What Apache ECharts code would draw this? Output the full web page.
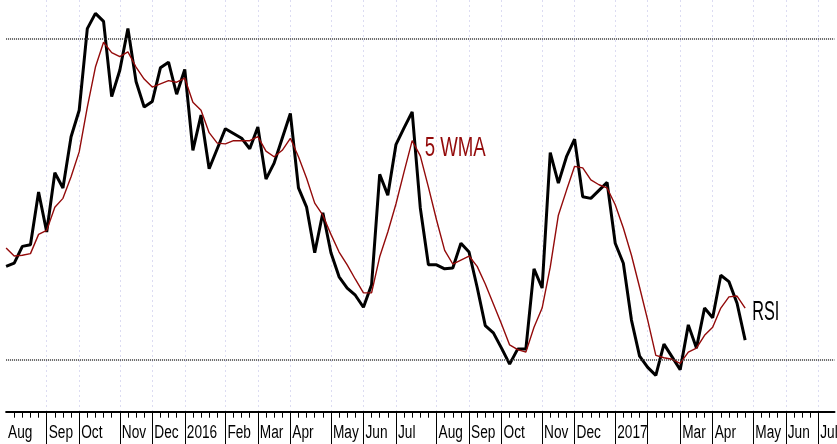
<!DOCTYPE html>
<html>
<head>
<meta charset="utf-8">
<script src="https://cdn.jsdelivr.net/npm/echarts@6/dist/echarts.min.js"></script>
<style>
html, body { margin: 0; padding: 0; background: #fff; }
#rsi-chart { width: 837px; height: 444px; }
</style>
</head>
<body>
<div id="rsi-chart"></div>
<script>
// weekly bars, week ending Saturday, first one 2015-08-01
var firstWeek = '2015-08-01';
var weekCount = 103;

var monthTicks  = [0, 5, 9, 14, 18, 22, 27, 31, 35, 40, 44, 48, 53, 57, 61, 66, 70, 75, 79, 83, 87, 92, 96, 100];
var monthLabels = ['Aug', 'Sep', 'Oct', 'Nov', 'Dec', '2016', 'Feb', 'Mar', 'Apr', 'May', 'Jun', 'Jul',
                   'Aug', 'Sep', 'Oct', 'Nov', 'Dec', '2017', '', 'Mar', 'Apr', 'May', 'Jun', 'Jul'];

var rsi = [41.6, 42.0, 44.1, 44.3, 50.9, 45.9, 53.3, 51.4, 57.8, 61.1,
           71.3, 73.2, 72.2, 62.8, 66.1, 71.3, 64.7, 61.5, 62.2, 66.4,
           67.1, 63.1, 66.2, 56.1, 60.5, 53.8, 56.3, 58.8, 58.2, 57.6,
           56.3, 59.0, 52.5, 54.5, 57.6, 60.7, 51.4, 49.0, 43.3, 48.3,
           43.3, 40.3, 38.9, 38.0, 36.5, 39.3, 53.1, 50.5, 56.8, 58.9,
           60.9, 48.9, 41.8, 41.8, 41.3, 41.4, 44.5, 43.4, 39.0, 34.2,
           33.3, 31.4, 29.4, 31.3, 31.3, 41.3, 38.9, 55.8, 52.0, 55.3,
           57.5, 50.3, 50.1, 51.1, 52.1, 44.5, 42.0, 34.9, 30.4, 29.0,
           28.0, 31.9, 30.3, 28.7, 34.3, 31.4, 36.4, 35.2, 40.5, 39.7,
           37.0, 32.4];

var wma = [43.9, 42.9, 43.0, 43.2, 45.6, 46.1, 49.0, 50.1, 52.8, 55.9,
           61.5, 66.5, 69.6, 68.3, 67.8, 68.4, 66.5, 65.0, 64.0, 64.4,
           64.8, 64.6, 65.1, 62.1, 61.1, 58.3, 57.0, 56.9, 57.3, 57.3,
           57.3, 57.8, 56.0, 55.3, 56.1, 57.6, 55.3, 52.6, 49.5, 48.0,
           45.6, 43.4, 41.8, 40.0, 38.3, 38.3, 42.8, 45.9, 49.4, 53.4,
           57.3, 55.4, 51.5, 47.4, 43.6, 41.9, 42.4, 42.9, 41.6, 39.4,
           36.9, 34.4, 31.8, 31.2, 30.9, 34.0, 36.4, 41.5, 48.0, 51.1,
           54.1, 53.9, 52.4, 51.8, 51.4, 49.3, 46.4, 43.0, 39.0, 34.9,
           30.5, 30.2, 30.0, 29.5, 30.9, 31.4, 33.0, 34.0, 36.4, 37.8,
           37.9, 36.4];

var levels = [30, 70];
var wmaLabelAt = 50;

var weeks = [];
var d0 = new Date(firstWeek + 'T00:00:00Z');
for (var i = 0; i < weekCount; i++) {
    weeks.push(new Date(d0.getTime() + i * 7 * 86400000).toISOString().slice(0, 10));
}

function isMonth(index) {
    return monthTicks.indexOf(index) > 0;
}

var red = '#930a0a';
var sans = '"Liberation Sans", Arial, sans-serif';

var chart = echarts.init(document.getElementById('rsi-chart'));

var option = {
    animation: false,
    backgroundColor: '#fff',
    grid: { left: 6.1, right: 2.5, top: 0, bottom: 32.3 },
    xAxis: [
        {
            type: 'category',
            data: weeks,
            boundaryGap: false,
            axisLine: { lineStyle: { color: '#000', width: 2 } },
            axisTick: {
                length: 6,
                interval: function (index) { return index > 0 && index <= 100; },
                lineStyle: { color: '#000', width: 1 }
            },
            axisLabel: { show: false },
            splitLine: { show: false }
        },
        {
            type: 'category',
            data: weeks,
            boundaryGap: false,
            position: 'bottom',
            axisLine: { show: false },
            axisTick: {
                length: 33,
                interval: isMonth,
                lineStyle: { color: '#000', width: 1 }
            },
            axisLabel: { show: false },
            splitLine: {
                show: true,
                interval: isMonth,
                lineStyle: { color: '#dcdcf2', width: 1, type: [2, 3] }
            }
        }
    ],
    yAxis: {
        type: 'value',
        min: 23.457,
        max: 74.87,
        show: false,
        splitLine: { show: false }
    },
    series: [
        {
            name: 'RSI',
            type: 'line',
            data: rsi,
            symbol: 'none',
            lineStyle: { color: '#000', width: 3 },
            markLine: {
                silent: true,
                symbol: ['none', 'none'],
                label: { show: false },
                lineStyle: { color: '#3a3a3a', width: 1.6, type: [1, 1] },
                data: levels.map(function (v) { return { yAxis: v }; })
            },
            z: 2
        },
        {
            name: '5 WMA',
            type: 'line',
            data: wma,
            symbol: 'none',
            lineStyle: { color: red, width: 1.4 },
            z: 3
        }
    ]
};

chart.setOption(option);

// the source uses a tall condensed face, so texts are drawn as scaled text
// at positions taken from the chart's own scales
var texts = [];
var axisY = chart.convertToPixel({ seriesIndex: 0 }, [0, option.yAxis.min])[1];
monthTicks.forEach(function (idx, k) {
    if (!monthLabels[k]) return;
    var x = chart.convertToPixel({ seriesIndex: 0 }, [idx, levels[0]])[0];
    texts.push({
        type: 'text',
        x: x + 2,
        y: axisY + 12.5,
        scaleX: 0.76,
        style: { text: monthLabels[k], fill: '#000', font: '18px ' + sans, verticalAlign: 'top' }
    });
});

var pw = chart.convertToPixel({ seriesIndex: 1 }, [wmaLabelAt, wma[wmaLabelAt]]);
var pr = chart.convertToPixel({ seriesIndex: 0 }, [rsi.length - 1, rsi[rsi.length - 1]]);

texts.push({
    type: 'text',
    x: pw[0] + 12.5,
    y: pw[1] - 6,
    scaleX: 0.69,
    style: { text: '5 WMA', fill: red, font: '27px ' + sans, verticalAlign: 'top' }
});
texts.push({
    type: 'text',
    x: pr[0] + 7,
    y: pr[1] - 42,
    scaleX: 0.58,
    style: { text: 'RSI', fill: '#000', font: '28px ' + sans, verticalAlign: 'top' }
});

chart.setOption({ graphic: texts });
</script>
</body>
</html>
